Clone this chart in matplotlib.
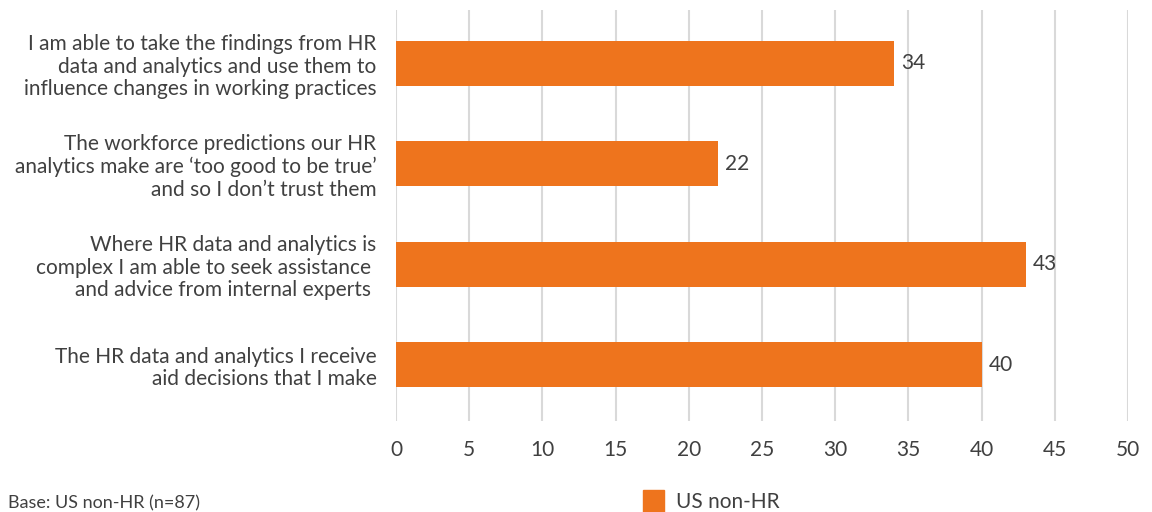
import matplotlib
matplotlib.use("Agg")
import matplotlib.pyplot as plt
from matplotlib.patches import Patch

categories = [
    "I am able to take the findings from HR\ndata and analytics and use them to\ninfluence changes in working practices",
    "The workforce predictions our HR\nanalytics make are \u2018too good to be true\u2019\nand so I don\u2019t trust them",
    "Where HR data and analytics is\ncomplex I am able to seek assistance \nand advice from internal experts ",
    "The HR data and analytics I receive\naid decisions that I make",
]
values = [34, 22, 43, 40]
series_name = "US non-HR"
x_ticks = [0, 5, 10, 15, 20, 25, 30, 35, 40, 45, 50]
base_note = "Base: US non-HR (n=87)"

BAR = "#EE741D"
TXT = "#404040"
GRID = "#D9D9D9"

plt.rcParams['font.family'] = ['Lato', 'DejaVu Sans']

fig = plt.figure(figsize=(11.52, 5.12), dpi=100)
ax = fig.add_axes([396/1152, 1-421/512, (1128-396)/1152, (421-10)/512])

y = list(range(len(categories)))
bars = ax.barh(y, values, height=0.45, color=BAR, zorder=3)
labels = ax.bar_label(bars, labels=[str(v) for v in values], padding=5, fontsize=15, color=TXT)
for t in labels:
    t.set_va('center')

ax.set_xlim(0, 50)
ax.set_ylim(3.56, -0.53)
ax.set_xticks(x_ticks)
ax.set_xticklabels([str(t) for t in x_ticks])
ax.set_yticks(y)
ax.set_yticklabels(categories, fontsize=15, color=TXT, ha='right', linespacing=1.16)
ax.tick_params(axis='y', length=0, pad=14)
ax.tick_params(axis='x', length=0, pad=14, labelsize=15, labelcolor=TXT)
ax.grid(axis='x', color=GRID, linewidth=1.5, zorder=0)
for s in ax.spines.values():
    s.set_visible(False)

fig.legend(handles=[Patch(color=BAR, label=series_name)], loc='center left',
           bbox_to_anchor=(624/1152, 1-501/512), frameon=False, fontsize=15,
           labelcolor=TXT, handlelength=1.0, handleheight=1.3, handletextpad=0.6)
fig.text(8/1152, 1-503/512, base_note, fontsize=13, color=TXT, va='center', ha='left')

fig.savefig("out.png", dpi=100)
